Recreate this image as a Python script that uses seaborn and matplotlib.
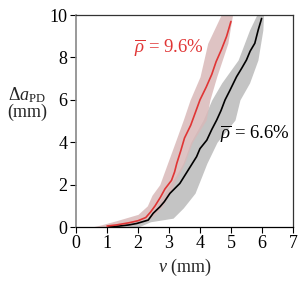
import matplotlib
matplotlib.use("Agg")
import matplotlib.pyplot as plt
import seaborn as sns
import numpy as np

# ---- data ----
# red series (rho = 9.6%): crack growth values and mean displacement
red_da = [0.05, 0.1, 0.2, 0.3, 0.45, 0.7, 1.0, 1.4, 1.8, 2.2, 2.6, 3.0, 3.6,
          4.2, 4.8, 5.4, 6.0, 6.6, 7.2, 7.8, 8.4, 9.0, 9.7]
red_v = [1.0, 1.3, 1.7, 2.0, 2.25, 2.4, 2.55, 2.72, 2.87, 3.08, 3.18, 3.25, 3.38,
         3.5, 3.7, 3.85, 4.0, 4.2, 4.38, 4.52, 4.7, 4.86, 5.0]
# red band
red_band_da = [0.0, 0.1, 0.3, 0.6, 1.0, 1.5, 2.0, 3.0, 4.0, 5.05, 6.0, 7.09, 8.67, 10.0]
red_band_lo = [0.5, 0.8, 1.3, 2.0, 2.3, 2.45, 2.7, 2.95, 3.2, 3.46, 3.68, 4.0, 4.25, 4.68]
red_band_hi = [1.3, 1.8, 2.3, 2.55, 2.8, 3.0, 3.15, 3.5, 3.75, 4.2, 4.32, 4.54, 4.9, 5.05]

# black series (rho = 6.6%)
blk_da = [0.0, 0.05, 0.1, 0.17, 0.33, 0.65, 0.96, 1.2, 1.59, 2.06, 2.69, 3.32, 3.7,
          4.1, 4.6, 5.05, 5.5, 6.0, 6.46, 7.09, 7.5, 7.88, 8.3, 8.67, 9.3, 9.84]
blk_v = [1.03, 1.4, 1.7, 1.96, 2.33, 2.49, 2.71, 2.85, 3.03, 3.35, 3.62, 3.89, 4.0,
         4.22, 4.38, 4.54, 4.68, 4.81, 4.97, 5.18, 5.35, 5.5, 5.62, 5.77, 5.88, 5.99]
blk_band_da = [0.0, 0.25, 0.42, 0.9, 1.6, 2.37, 3.0, 4.0, 5.05, 6.0, 6.8, 7.88, 9.3, 10.0]
blk_band_lo = [1.1, 1.8, 2.3, 2.55, 2.85, 3.2, 3.45, 3.7, 4.1, 4.38, 4.7, 5.23, 5.6, 5.83]
blk_band_hi = [2.0, 2.4, 3.13, 3.46, 3.84, 4.05, 4.22, 4.55, 5.13, 5.29, 5.6, 5.87, 6.03, 6.05]

x_ticks = [0, 1, 2, 3, 4, 5, 6, 7]
y_ticks = [0, 2, 4, 6, 8, 10]

# ---- style ----
sns.set_theme(style="ticks")
plt.rcParams['font.family'] = ['Liberation Serif', 'DejaVu Serif']
plt.rcParams['mathtext.fontset'] = 'custom'
plt.rcParams['mathtext.rm'] = 'Liberation Serif'
plt.rcParams['mathtext.it'] = 'Liberation Serif:italic'
plt.rcParams['mathtext.bf'] = 'Liberation Serif:bold'

fig = plt.figure(figsize=(3.08, 2.90), dpi=100)
ax = fig.add_axes([0.247, 0.217, 0.704, 0.731])

RED = '#e03535'
PINK = '#d9b9b9'
GRAY = '#c4c4c4'

ax.fill_betweenx(blk_band_da, blk_band_lo, blk_band_hi, color=GRAY, lw=0, zorder=1)
ax.fill_betweenx(red_band_da, red_band_lo, red_band_hi, color=PINK, lw=0, alpha=0.85, zorder=2)

sns.lineplot(x=blk_v, y=blk_da, sort=False, estimator=None, color='black', lw=1.2, ax=ax, zorder=3)
sns.lineplot(x=red_v, y=red_da, sort=False, estimator=None, color=RED, lw=1.2, ax=ax, zorder=4)

ax.text(3.0, 8.47, r'$\overline{\rho}$ = 9.6%', color=RED, fontsize=13.5, ha='center', va='center')
ax.text(5.78, 4.42, r'$\overline{\rho}$ = 6.6%', color='black', fontsize=13.5, ha='center', va='center')

ax.set_xlim(0, 7)
ax.set_ylim(0, 10)
ax.set_xticks(x_ticks)
ax.set_yticks(y_ticks)
ax.tick_params(direction='out', length=4, width=0.8, labelsize=13, pad=2, colors='black')

ax.set_xlabel(r'$v$ (mm)', fontsize=13, labelpad=3)
ax.set_ylabel('$\\Delta a_{\\mathrm{PD}}$\n(mm)', fontsize=13, rotation=0,
              ha='center', va='center', linespacing=0.85)
ax.yaxis.set_label_coords(-0.225, 0.585)

for s in ['top', 'right', 'bottom']:
    ax.spines[s].set_visible(True)
    ax.spines[s].set_color('#333333')
    ax.spines[s].set_linewidth(0.9)
ax.spines['left'].set_color('#888888')
ax.spines['left'].set_linewidth(1.2)
ax.spines['bottom'].set_color('black')

fig.savefig('out.png', dpi=100)
